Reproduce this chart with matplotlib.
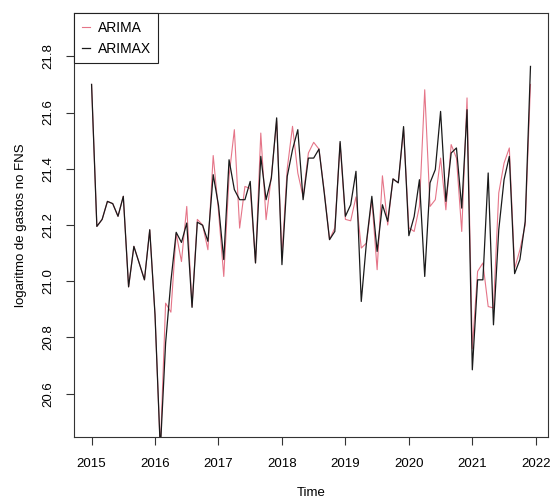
import numpy as np
import matplotlib
matplotlib.use("Agg")
import matplotlib.pyplot as plt

plt.rcParams['font.family'] = ['Liberation Sans', 'DejaVu Sans']

# série mensal jan/2015 - dez/2021
inicio = 2015
freq = 12

arimax = [
    21.70, 21.195, 21.22, 21.284, 21.276, 21.231, 21.302, 20.98, 21.124, 21.065, 21.005, 21.183,
    20.88, 20.40, 20.78, 21.00, 21.174, 21.138, 21.207, 20.907, 21.21, 21.199, 21.142, 21.379,
    21.27, 21.077, 21.432, 21.326, 21.29, 21.29, 21.355, 21.065, 21.444, 21.29, 21.367, 21.581,
    21.059, 21.373, 21.468, 21.539, 21.29, 21.438, 21.438, 21.47, 21.314, 21.148, 21.177, 21.497,
    21.231, 21.272, 21.391, 20.928, 21.142, 21.302, 21.106, 21.272, 21.213, 21.364, 21.35, 21.55,
    21.162, 21.23, 21.361, 21.017, 21.35, 21.397, 21.604, 21.284, 21.456, 21.474, 21.26, 21.61,
    20.685, 21.005, 21.005, 21.385, 20.845, 21.183, 21.361, 21.444, 21.027, 21.077, 21.213, 21.764,
]

arima = [
    21.70, 21.195, 21.22, 21.284, 21.276, 21.231, 21.302, 20.98, 21.124, 21.065, 21.005, 21.183,
    20.88, 20.40, 20.922, 20.89, 21.17, 21.07, 21.266, 20.91, 21.22, 21.20, 21.112, 21.447,
    21.25, 21.017, 21.373, 21.539, 21.189, 21.337, 21.33, 21.065, 21.527, 21.219, 21.373, 21.57,
    21.09, 21.40, 21.551, 21.385, 21.30, 21.456, 21.494, 21.47, 21.32, 21.148, 21.19, 21.49,
    21.22, 21.215, 21.30, 21.118, 21.136, 21.29, 21.041, 21.375, 21.20, 21.364, 21.35, 21.54,
    21.19, 21.177, 21.266, 21.681, 21.266, 21.29, 21.438, 21.254, 21.486, 21.438, 21.177, 21.652,
    20.76, 21.035, 21.065, 20.91, 20.905, 21.314, 21.42, 21.474, 21.045, 21.112, 21.20, 21.70,
]

anos = [2015, 2016, 2017, 2018, 2019, 2020, 2021, 2022]
yticks = [20.6, 20.8, 21.0, 21.2, 21.4, 21.6, 21.8]

tempo = inicio + np.arange(len(arimax)) / freq

fig = plt.figure(figsize=(5.53, 5.0), dpi=100)
ax = fig.add_axes([0.1338, 0.126, 0.8572, 0.848])

ax.plot(tempo, arima, color='#DF536B', lw=0.8, alpha=0.8, label='ARIMA')
ax.plot(tempo, arimax, color='#1a1a1a', lw=0.9, label='ARIMAX')

ax.set_xlim(2014.723, 2022.193)
ax.set_ylim(20.446, 21.954)
ax.set_xticks(anos)
ax.set_yticks(yticks)
ax.set_yticklabels([f'{v:.1f}' for v in yticks], rotation=90, va='center')
ax.tick_params(axis='both', length=6, width=0.8, color='#333333', labelsize=9.5)
ax.tick_params(axis='x', pad=9)
ax.tick_params(axis='y', pad=8)
for s in ax.spines.values():
    s.set_color('#333333')
    s.set_linewidth(0.8)

ax.set_xlabel('Time', fontsize=9.5, labelpad=12)
ax.set_ylabel('logaritmo de gastos no FNS', fontsize=9.5, labelpad=11)

leg = ax.legend(loc='upper left', borderaxespad=0, fancybox=False, edgecolor='#222222',
                framealpha=1, fontsize=10, handlelength=0.6, handletextpad=0.55,
                borderpad=0.55, labelspacing=0.5)
leg.get_frame().set_linewidth(0.8)

fig.savefig('out.png', dpi=100)
